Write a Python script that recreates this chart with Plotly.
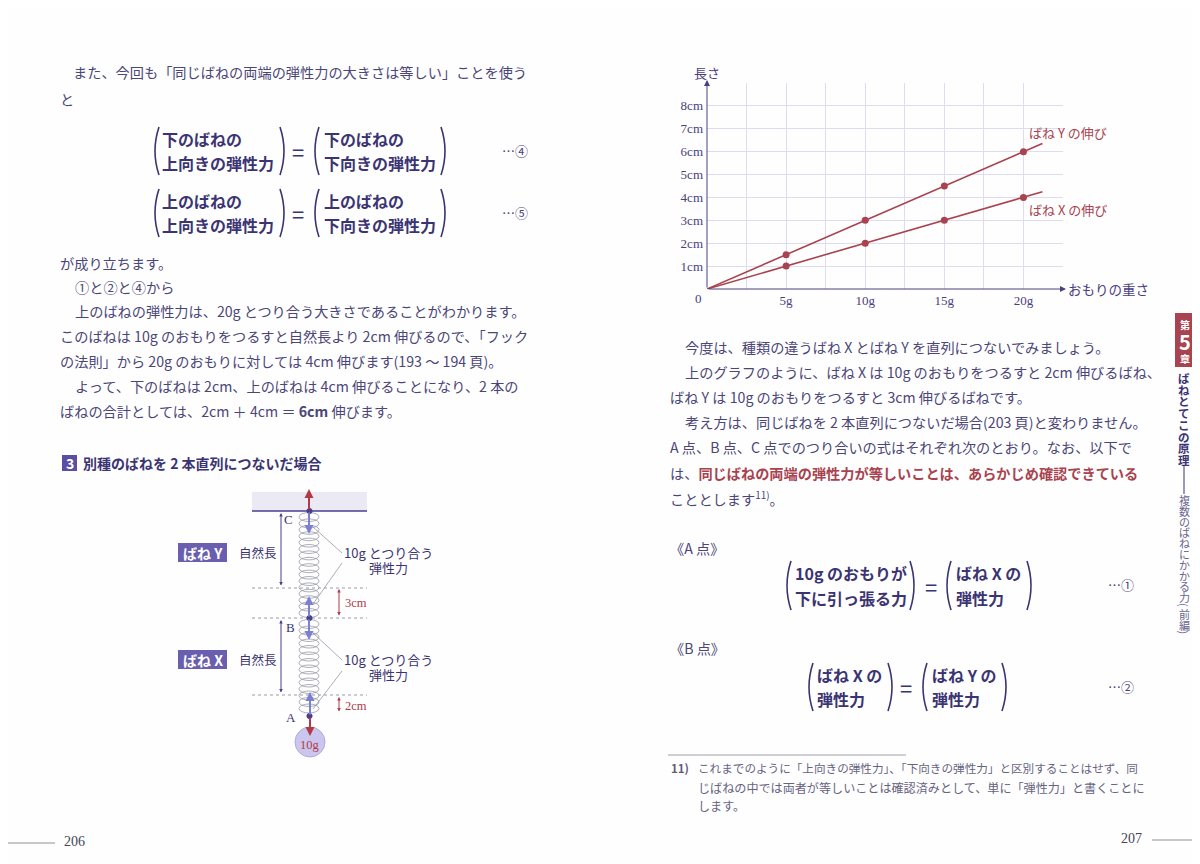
import plotly.graph_objects as go

# spring stretch data
weights = [0, 5, 10, 15, 20]
stretch_x = [0, 1, 2, 3, 4]
stretch_y = [0, 1.5, 3, 4.5, 6]
line_end_weight = 21.2
line_end_x = 4.25
line_end_y = 6.36

x_tickvals = [2.5, 5, 7.5, 10, 12.5, 15, 17.5, 20]
x_ticktext = ["", "5g", "", "10g", "", "15g", "", "20g"]
y_tickvals = [1, 2, 3, 4, 5, 6, 7, 8]
y_ticktext = ["1cm", "2cm", "3cm", "4cm", "5cm", "6cm", "7cm", "8cm"]

left_lines = [
    (71, 72, "また、今回も「同じばねの両端の弾性力の大きさは等しい」ことを使う"),
    (58, 99, "と"),
    (58, 263, "が成り立ちます。"),
    (73, 287, "①と②と④から"),
    (73, 311, "上のばねの弾性力は、20g とつり合う大きさであることがわかります。"),
    (58, 336, "このばねは 10g のおもりをつるすと自然長より 2cm 伸びるので、「フック"),
    (58, 361, "の法則」から 20g のおもりに対しては 4cm 伸びます(193 ～ 194 頁)。"),
    (73, 386, "よって、下のばねは 2cm、上のばねは 4cm 伸びることになり、2 本の"),
    (58, 411, "ばねの合計としては、2cm ＋ 4cm ＝ <b>6cm</b> 伸びます。"),
]
right_lines = [
    (683, 347, "今度は、種類の違うばね X とばね Y を直列につないでみましょう。"),
    (683, 372, "上のグラフのように、ばね X は 10g のおもりをつるすと 2cm 伸びるばね、"),
    (668, 397, "ばね Y は 10g のおもりをつるすと 3cm 伸びるばねです。"),
    (683, 422, "考え方は、同じばねを 2 本直列につないだ場合(203 頁)と変わりません。"),
    (668, 447, "A 点、B 点、C 点でのつり合いの式はそれぞれ次のとおり。なお、以下で"),
    (668, 473, "は、<b><span style='color:#a8434f'>同じばねの両端の弾性力が等しいことは、あらかじめ確認できている</span></b>"),
    (668, 498, "こととします<sup>11)</sup>。"),
    (668, 548, "《A 点》"),
    (668, 648, "《B 点》"),
]
footnote = [
    "これまでのように「上向きの弾性力」、「下向きの弾性力」と区別することはせず、同",
    "じばねの中では両者が等しいことは確認済みとして、単に「弾性力」と書くことに",
    "します。",
]
tab_main = "ばねとてこの原理"
tab_sub = "複数のばねにかかる力(前編)"

JP = "Noto Sans CJK JP"
SERIF = "Liberation Serif"
BODY = "#4b4677"
EQ = "#3b3472"
RED = "#a8434f"
AXIS = "#4a4080"
GRID = "#dfdded"
BLUE = "#7c7fd2"
DARKRED = "#b03a48"

# the page body keeps an 8px margin, so the figure covers 8..1200 x 8..864
OFF = 8
W, H = 1200 - OFF, 864 - OFF

ann = []
shapes = []


def note(x, y, text, size=14.2, color=BODY, anchor="left", family=JP, **kw):
    ann.append(dict(x=x, y=y, xref="x2", yref="y2", text=text, showarrow=False,
                    xanchor=anchor, yanchor="middle",
                    font=dict(family=family, size=size, color=color), **kw))


def arrow(x0, y0, x1, y1, color, width=2, head=2, size=1.0, side="end"):
    ann.append(dict(x=x1, y=y1, ax=x0, ay=y0, xref="x2", yref="y2",
                    axref="x2", ayref="y2", text="", showarrow=True,
                    arrowhead=head, arrowsize=size, arrowwidth=width,
                    arrowcolor=color, arrowside=side, standoff=0, startstandoff=0))


def line(x0, y0, x1, y1, color, width=1, dash="solid"):
    shapes.append(dict(type="line", x0=x0, y0=y0, x1=x1, y1=y1, xref="x2", yref="y2",
                       line=dict(color=color, width=width, dash=dash)))


def rect(x0, y0, x1, y1, fill, lc=None, lw=0):
    shapes.append(dict(type="rect", x0=x0, y0=y0, x1=x1, y1=y1, xref="x2", yref="y2",
                       fillcolor=fill, line=dict(color=lc or fill, width=lw)))


def oval(cx, cy, rx, ry, lc, lw=0.8, fill="rgba(0,0,0,0)"):
    shapes.append(dict(type="circle", x0=cx - rx, x1=cx + rx, y0=cy - ry, y1=cy + ry,
                       xref="x2", yref="y2", fillcolor=fill, line=dict(color=lc, width=lw)))


def paren(x, y0, y1, right=False, color=EQ):
    m = (y0 + y1) / 2
    if right:
        p = f"M {x-3},{y0} Q {x+5},{m} {x-3},{y1}"
    else:
        p = f"M {x+3},{y0} Q {x-5},{m} {x+3},{y1}"
    shapes.append(dict(type="path", path=p, xref="x2", yref="y2",
                       line=dict(color=color, width=1.6)))


def equation(xl, xr_text, xeq, left_txt, right_txt, y1, y2, lp, rp, mark, mark_x=500):
    top, bot = y1 - 12, y2 + 12
    paren(lp[0], top, bot)
    paren(lp[1], top, bot, right=True)
    paren(rp[0], top, bot)
    paren(rp[1], top, bot, right=True)
    note(xl, y1, f"<b>{left_txt[0]}</b>", size=16, color=EQ)
    note(xl, y2, f"<b>{left_txt[1]}</b>", size=16, color=EQ)
    note(xr_text, y1, f"<b>{right_txt[0]}</b>", size=16, color=EQ)
    note(xr_text, y2, f"<b>{right_txt[1]}</b>", size=16, color=EQ)
    note(xeq, (y1 + y2) / 2, "=", size=22, color=EQ, anchor="center")
    note(mark_x, (y1 + y2) / 2 - 1, mark, size=13, color=BODY)


def px_x(p):
    return (p - OFF) / W


def px_y(p):
    return 1 - (p - OFF) / H


fig = go.Figure()

# --- graph: spring stretch vs weight ---
fig.add_trace(go.Scatter(x=weights + [line_end_weight], y=stretch_y + [line_end_y],
                         mode="lines", line=dict(color=RED, width=1.6),
                         hoverinfo="skip", showlegend=False))
fig.add_trace(go.Scatter(x=weights + [line_end_weight], y=stretch_x + [line_end_x],
                         mode="lines", line=dict(color=RED, width=1.6),
                         hoverinfo="skip", showlegend=False))
fig.add_trace(go.Scatter(x=weights[1:], y=stretch_y[1:], mode="markers",
                         marker=dict(color=RED, size=7), hoverinfo="skip", showlegend=False))
fig.add_trace(go.Scatter(x=weights[1:], y=stretch_x[1:], mode="markers",
                         marker=dict(color=RED, size=7), hoverinfo="skip", showlegend=False))

fig.update_layout(
    width=W, height=H, margin=dict(l=0, r=0, t=0, b=0),
    paper_bgcolor="#fefefe", plot_bgcolor="rgba(0,0,0,0)",
    hovermode=False, showlegend=False,
    xaxis=dict(domain=[px_x(707), px_x(1063)], range=[0, 22.5], tickvals=x_tickvals,
               ticktext=x_ticktext, showgrid=True, gridcolor=GRID, gridwidth=1,
               zeroline=False, showline=False, ticks="", fixedrange=True,
               tickfont=dict(family=SERIF, size=13, color=AXIS), ticklabelstandoff=2),
    yaxis=dict(domain=[px_y(289), px_y(83)], range=[0, 9], tickvals=y_tickvals,
               ticktext=y_ticktext, showgrid=True, gridcolor=GRID, gridwidth=1,
               zeroline=False, showline=False, ticks="", fixedrange=True,
               tickfont=dict(family=SERIF, size=13, color=AXIS), ticklabelstandoff=3),
    xaxis2=dict(domain=[0, 1], range=[OFF, 1200], visible=False, fixedrange=True, anchor="y2"),
    yaxis2=dict(domain=[0, 1], range=[864, OFF], visible=False, fixedrange=True, anchor="x2"),
)

# axes with arrowheads
arrow(707, 289, 1066, 289, AXIS, width=1, head=2, size=1.2)
arrow(707, 289, 707, 80, AXIS, width=1, head=2, size=1.2)
note(707, 72, "長さ", size=13, color=AXIS, anchor="center")
note(1066, 289, "おもりの重さ", size=13.5, color=AXIS)
note(698, 298, "0", size=13, color=AXIS, anchor="center", family=SERIF)
note(1027, 132, "ばね Y の伸び", size=13, color=RED)
note(1027, 209, "ばね X の伸び", size=13, color=RED)

# --- body text ---
for x, y, t in left_lines + right_lines:
    note(x, y, t)

equation(160, 322, 298, ("下のばねの", "上向きの弾性力"), ("下のばねの", "下向きの弾性力"),
         139, 163, (156, 283), (316, 444), "…④")
equation(160, 322, 298, ("上のばねの", "上向きの弾性力"), ("上のばねの", "下向きの弾性力"),
         201, 225, (156, 283), (316, 444), "…⑤")
equation(793, 954, 931, ("10g のおもりが", "下に引っ張る力"), ("ばね X の", "弾性力"),
         573, 598, (788, 913), (948, 1030), "…①", mark_x=1106)
equation(815, 930, 906, ("ばね X の", "弾性力"), ("ばね Y の", "弾性力"),
         675, 699, (810, 891), (924, 1005), "…②", mark_x=1106)

# section heading
rect(62, 455, 77, 471, "#5a4fa0")
note(69.5, 463, "<b>3</b>", size=14, color="white", anchor="center")
note(81, 463, "<b>別種のばねを 2 本直列につないだ場合</b>", size=14, color=EQ)

# footnote
line(668, 755, 906, 755, "#8a8898", 0.8)
note(669, 768, "<b>11)</b>", size=11.5, color="#5e5b78")
note(696, 768, footnote[0], size=11.6, color="#66637e")
note(696, 787, footnote[1], size=12.1, color="#66637e")
note(696, 805, footnote[2], size=12.1, color="#66637e")

# page numbers
line(OFF, 843, 55, 843, "#777777", 0.8)
note(74, 841, "206", size=14, color="#444455", anchor="center", family="Liberation Sans Narrow")
line(1152, 840, 1200, 840, "#777777", 0.8)
note(1131, 838, "207", size=14, color="#444455", anchor="center", family="Liberation Sans Narrow")

# chapter tab
rect(1175, 313, 1194, 367, RED)
note(1184.5, 324, "<b>第</b>", size=10, color="white", anchor="center")
note(1184.5, 341, "<b>5</b>", size=20, color="white", anchor="center")
note(1184.5, 358, "<b>章</b>", size=10, color="white", anchor="center")
yy = 378
for ch in tab_main:
    note(1184, yy, f"<b>{ch}</b>", size=11.5, color=EQ, anchor="center")
    yy += 11.7
line(1184, 466, 1184, 494, EQ, 1)
yy = 500
for ch in tab_sub:
    if ch in "()":
        note(1184, yy - 3, ch, size=11, color="#6a6690", anchor="center", textangle=90)
        yy += 6
    else:
        note(1184, yy, ch, size=11, color="#6a6690", anchor="center")
        yy += 10.8

# --- spring diagram ---
rect(252, 492, 367, 511, "#ebe9f4")
line(252, 511, 367, 511, "#4a3f8f", 1.6)
for i in range(16):
    oval(309, 517 + i * 6.4, 10, 4.5, "#9a9aaa")
for i in range(14):
    oval(309, 624 + i * 6.5, 10, 4.5, "#9a9aaa")
for yv in (588, 618, 695):
    line(252, yv, 367, yv, "#9a9aaa", 1, "dot")

arrow(309, 511, 309, 489, DARKRED, 2, 2, 0.9)
arrow(309, 511, 309, 534, BLUE, 2, 2, 0.9)
arrow(309, 618, 309, 596, BLUE, 2, 2, 0.9)
arrow(309, 618, 309, 640, BLUE, 2, 2, 0.9)
arrow(310, 716, 310, 692, BLUE, 2, 2, 0.9)
arrow(310, 716, 310, 736, DARKRED, 2, 2, 0.9)
for cy in (511, 618, 716):
    oval(309.5, cy, 2.6, 2.6, "#4a3f8f", 1, "#4a3f8f")

oval(310, 742, 15, 15, "#b0aadf", 1, "#cbc6ee")
note(310, 745, "10g", size=12.5, color=DARKRED, anchor="center", family=SERIF)

note(288, 519, "C", size=13, color=EQ, anchor="center", family=SERIF)
note(290, 627, "B", size=13, color=EQ, anchor="center", family=SERIF)
note(291, 717, "A", size=13, color=EQ, anchor="center", family=SERIF)

arrow(281, 587, 281, 513, "#4a3f8f", 1, 2, 0.7, "end+start")
arrow(281, 694, 281, 620, "#4a3f8f", 1, 2, 0.7, "end+start")
arrow(339, 617, 339, 589, DARKRED, 1, 2, 0.7, "end+start")
arrow(339, 713, 339, 697, DARKRED, 1, 2, 0.7, "end+start")
note(343, 603, "3cm", size=12.5, color=DARKRED, family=SERIF)
note(343, 706, "2cm", size=12.5, color=DARKRED, family=SERIF)

for y0, lab in ((552, "ばね Y"), (659, "ばね X")):
    rect(178, y0 - 9, 227, y0 + 10, "#6a5fae")
    note(202.5, y0 + 0.5, f"<b>{lab}</b>", size=14, color="white", anchor="center")
    note(237, y0, "自然長", size=12.5, color=EQ)
    note(342, y0, "10g とつり合う", size=13, color=EQ)
    note(367, y0 + 15, "弾性力", size=13, color=EQ)

line(313, 527, 342, 553, "#8a8a9a", 0.7)
line(342, 563, 313, 604, "#8a8a9a", 0.7)
line(313, 633, 342, 660, "#8a8a9a", 0.7)
line(342, 671, 313, 709, "#8a8a9a", 0.7)

fig.update_layout(annotations=ann, shapes=shapes)
fig.write_html("out.html")
